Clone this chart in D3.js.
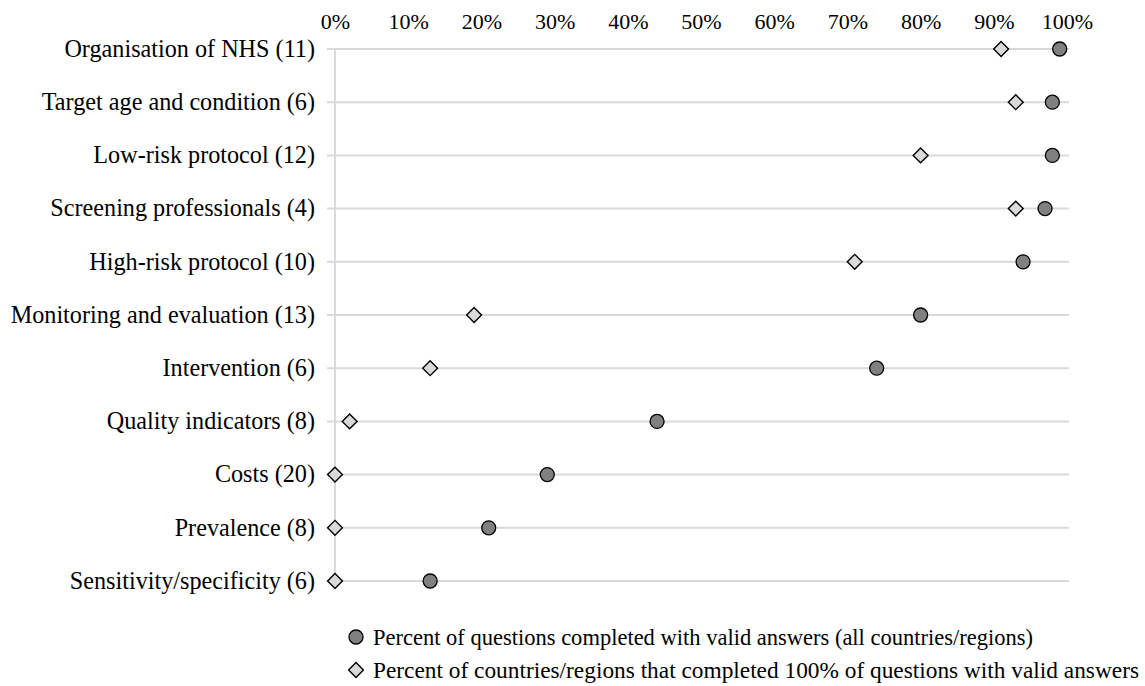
<!DOCTYPE html>
<html><head><meta charset="utf-8">
<script src="https://cdn.jsdelivr.net/npm/d3@7"></script>
<style>
html,body{margin:0;padding:0;background:#fff;}
svg{display:block;}
text{font-family:"Liberation Serif","Times New Roman",serif;fill:#000;}
</style></head>
<body><svg id="chart" width="1145" height="686"></svg>
<script>
const categories = ["Organisation of NHS (11)","Target age and condition (6)","Low-risk protocol (12)","Screening professionals (4)","High-risk protocol (10)","Monitoring and evaluation (13)","Intervention (6)","Quality indicators (8)","Costs (20)","Prevalence (8)","Sensitivity/specificity (6)"];
const validAnswers = [99,98,98,97,94,80,74,44,29,21,13];
const fullCompletion = [91,93,80,93,71,19,13,2,0,0,0];
const xTicks = [0,10,20,30,40,50,60,70,80,90,100];
const seriesNames = ["Percent of questions completed with valid answers (all countries/regions)","Percent of countries/regions that completed 100% of questions with valid answers"];

const svg = d3.select("#chart");
const x = d3.scaleLinear().domain([0,100]).range([335,1067]);
const y = d3.scalePoint().domain(categories).range([49,581]);

// gridlines
svg.append("g").selectAll("line").data(categories).join("line")
  .attr("x1", x(0)-8).attr("x2", x(100)+2)
  .attr("y1", d=>y(d)).attr("y2", d=>y(d))
  .attr("stroke","#d9d9d9").attr("stroke-width",2);
// vertical axis line
svg.append("line").attr("x1",x(0)).attr("x2",x(0))
  .attr("y1",y(categories[0])).attr("y2",y(categories[categories.length-1]))
  .attr("stroke","#d9d9d9").attr("stroke-width",2);

// top axis labels
const xAxis = d3.axisTop(x).tickValues(xTicks).tickFormat(d=>d+"%").tickSize(0).tickPadding(0);
const gx = svg.append("g").attr("transform","translate(0,29)").call(xAxis);
gx.select(".domain").remove();
gx.selectAll("text").attr("font-size",22).attr("font-family","Liberation Serif").attr("fill","#000").attr("dy","0");

// category labels
const yAxis = d3.axisLeft(y).tickSize(0).tickPadding(0);
const gy = svg.append("g").attr("transform","translate(315,0)").call(yAxis);
gy.select(".domain").remove();
gy.selectAll("text").attr("font-size",24.2).attr("font-family","Liberation Serif").attr("fill","#000").attr("dy","0.3em");

const diamond = d3.symbol().type(d3.symbolSquare).size(110);
// diamonds
svg.append("g").selectAll("path").data(categories).join("path")
  .attr("d", diamond)
  .attr("transform",(d,i)=>`translate(${x(fullCompletion[i])},${y(d)}) rotate(45)`)
  .attr("fill","#d9d9d9").attr("stroke","#000").attr("stroke-width",1.4);
// circles
svg.append("g").selectAll("circle").data(categories).join("circle")
  .attr("cx",(d,i)=>x(validAnswers[i])).attr("cy",d=>y(d)).attr("r",7)
  .attr("fill","#808080").attr("stroke","#000").attr("stroke-width",1.3);

// legend
const legendWidths = [660, 766];
const lg = svg.append("g");
lg.append("circle").attr("cx",356).attr("cy",637).attr("r",7)
  .attr("fill","#808080").attr("stroke","#000").attr("stroke-width",1.3);
lg.append("path").attr("d",diamond).attr("transform","translate(356,670) rotate(45)")
  .attr("fill","#d9d9d9").attr("stroke","#000").attr("stroke-width",1.4);
lg.selectAll("text").data(seriesNames).join("text")
  .attr("x",373).attr("y",(d,i)=>645+i*33)
  .attr("font-size",22.5)
  .attr("textLength",(d,i)=>legendWidths[i]).attr("lengthAdjust","spacingAndGlyphs")
  .text(d=>d);
</script></body></html>
